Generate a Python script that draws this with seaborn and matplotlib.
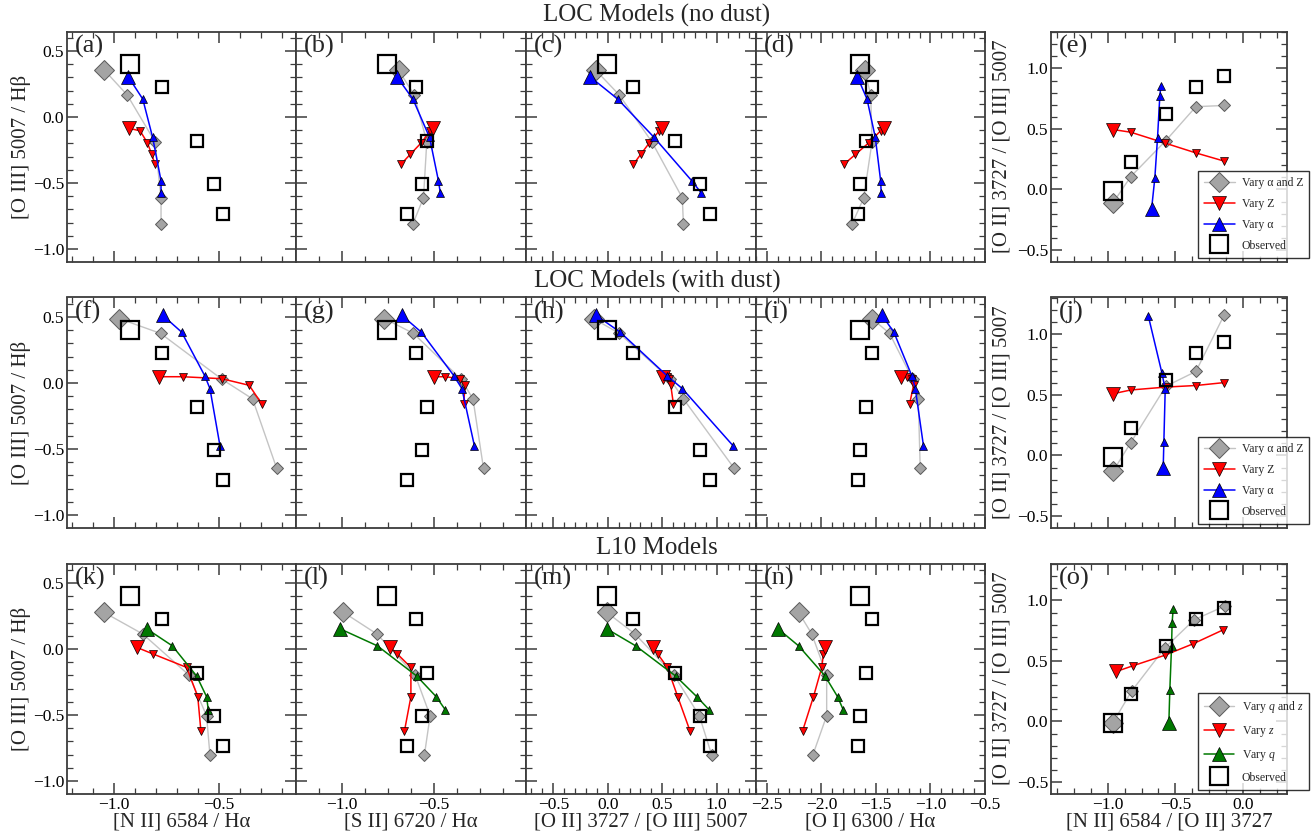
import matplotlib
matplotlib.use("Agg")
import matplotlib.pyplot as plt
from matplotlib.lines import Line2D
from matplotlib.ticker import MultipleLocator
import seaborn as sns

sns.set_theme(style="ticks")
plt.rcParams['font.family'] = ['Liberation Serif', 'DejaVu Serif']
plt.rcParams['mathtext.fontset'] = 'custom'
plt.rcParams['mathtext.rm'] = 'Liberation Serif'
plt.rcParams['mathtext.it'] = 'Liberation Serif:italic'

# ---------------- observed line ratios (log) ----------------
obs_o3hb = [0.40, 0.23, -0.18, -0.51, -0.735]
obs_n2ha = [-0.924, -0.770, -0.603, -0.524, -0.480]
obs_s2ha = [-0.756, -0.599, -0.540, -0.567, -0.648]
obs_o2o3 = [-0.01, 0.23, 0.62, 0.85, 0.94]
obs_o1ha = [-1.643, -1.536, -1.588, -1.648, -1.664]
obs_n2o2 = [-0.961, -0.830, -0.570, -0.348, -0.139]

# ---------------- LOC models, no dust ----------------
loc_both_o3hb = [0.355, 0.167, -0.187, -0.612, -0.808]
loc_both_n2ha = [-1.046, -0.937, -0.805, -0.776, -0.776]
loc_both_s2ha = [-0.693, -0.608, -0.540, -0.558, -0.615]
loc_both_o2o3 = [-0.11, 0.106, 0.404, 0.684, 0.694]
loc_both_o1ha = [-1.603, -1.548, -1.536, -1.612, -1.718]
loc_both_n2o2 = [-0.961, -0.830, -0.570, -0.348, -0.139]

loc_z_o3hb = [-0.086, -0.104, -0.195, -0.283, -0.358]
loc_z_n2ha = [-0.927, -0.876, -0.841, -0.820, -0.805]
loc_z_s2ha = [-0.507, -0.522, -0.570, -0.630, -0.680]
loc_z_o2o3 = [0.495, 0.473, 0.382, 0.302, 0.235]
loc_z_o1ha = [-1.427, -1.457, -1.566, -1.688, -1.794]
loc_z_n2o2 = [-0.960, -0.830, -0.573, -0.348, -0.141]

loc_a_o3hb = [0.305, 0.136, -0.154, -0.483, -0.573]
loc_a_n2ha = [-0.932, -0.863, -0.816, -0.776, -0.776]
loc_a_s2ha = [-0.702, -0.615, -0.525, -0.477, -0.467]
loc_a_o2o3 = [-0.162, 0.092, 0.425, 0.771, 0.856]
loc_a_o1ha = [-1.670, -1.582, -1.506, -1.457, -1.452]
loc_a_n2o2 = [-0.676, -0.652, -0.632, -0.615, -0.607]

# ---------------- LOC models, with dust ----------------
dust_both_o3hb = [0.488, 0.376, 0.030, -0.120, -0.646]
dust_both_n2ha = [-0.975, -0.778, -0.487, -0.340, -0.225]
dust_both_s2ha = [-0.769, -0.612, -0.355, -0.290, -0.233]
dust_both_o2o3 = [-0.13, 0.106, 0.572, 0.694, 1.160]
dust_both_o1ha = [-1.536, -1.375, -1.164, -1.112, -1.094]
dust_both_n2o2 = [-0.961, -0.830, -0.570, -0.348, -0.139]

dust_z_o3hb = [0.048, 0.048, 0.033, -0.017, -0.156]
dust_z_n2ha = [-0.784, -0.673, -0.487, -0.356, -0.297]
dust_z_s2ha = [-0.500, -0.440, -0.359, -0.332, -0.341]
dust_z_o2o3 = [0.510, 0.541, 0.565, 0.578, 0.602]
dust_z_o1ha = [-1.270, -1.215, -1.173, -1.155, -1.191]
dust_z_n2o2 = [-0.961, -0.830, -0.570, -0.348, -0.139]

dust_a_o3hb = [0.513, 0.386, 0.053, -0.042, -0.477]
dust_a_n2ha = [-0.768, -0.678, -0.567, -0.543, -0.495]
dust_a_s2ha = [-0.675, -0.570, -0.392, -0.350, -0.282]
dust_a_o2o3 = [-0.107, 0.113, 0.547, 0.684, 1.152]
dust_a_o1ha = [-1.445, -1.336, -1.170, -1.139, -1.064]
dust_a_n2o2 = [-0.59, -0.585, -0.575, -0.60, -0.70]

# ---------------- L10 models ----------------
l10_both_o3hb = [0.278, 0.114, -0.197, -0.505, -0.803]
l10_both_n2ha = [-1.048, -0.863, -0.643, -0.559, -0.543]
l10_both_s2ha = [-0.991, -0.810, -0.603, -0.522, -0.553]
l10_both_o2o3 = [-0.009, 0.250, 0.608, 0.840, 0.954]
l10_both_o1ha = [-2.209, -2.088, -1.952, -1.952, -2.079]
l10_both_n2o2 = [-0.961, -0.824, -0.578, -0.361, -0.133]

l10_z_o3hb = [0.013, -0.038, -0.139, -0.361, -0.621]
l10_z_n2ha = [-0.892, -0.813, -0.654, -0.601, -0.586]
l10_z_s2ha = [-0.738, -0.699, -0.626, -0.626, -0.661]
l10_z_o2o3 = [0.413, 0.459, 0.547, 0.642, 0.755]
l10_z_o1ha = [-1.966, -1.982, -1.997, -2.073, -2.173]
l10_z_n2o2 = [-0.936, -0.817, -0.578, -0.368, -0.150]

l10_q_o3hb = [0.153, 0.024, -0.205, -0.361, -0.460]
l10_q_n2ha = [-0.844, -0.722, -0.606, -0.559, -0.551]
l10_q_s2ha = [-1.009, -0.807, -0.594, -0.489, -0.440]
l10_q_o2o3 = [-0.009, 0.257, 0.624, 0.817, 0.930]
l10_q_o1ha = [-2.397, -2.209, -1.966, -1.852, -1.800]
l10_q_n2o2 = [-0.548, -0.541, -0.528, -0.524, -0.516]

row_titles = ["LOC Models (no dust)", "LOC Models (with dust)", "L10 Models"]
panel_letters = ["abcde", "fghij", "klmno"]
x_labels = ["[N II] 6584 / H\u03b1", "[S II] 6720 / H\u03b1",
            "[O II] 3727 / [O III] 5007", "[O I] 6300 / H\u03b1",
            "[N II] 6584 / [O II] 3727"]
y_label_left = "[O III] 5007 / H\u03b2"
y_label_right = "[O II] 3727 / [O III] 5007"
legend_labels_loc = ["Vary \u03b1 and Z", "Vary Z", "Vary \u03b1", "Observed"]
legend_labels_l10 = [r"Vary $q$ and $z$", r"Vary $z$", r"Vary $q$", "Observed"]

GREY_FACE, GREY_EDGE, GREY_LINE = "#a4a4a4", "#5a5a5a", "#c4c4c4"
RED, BLUE, GREEN = "#ff0000", "#0000ff", "#007800"
FRAME = "#3c3c3c"

rows = [
    dict(both=(loc_both_n2ha, loc_both_s2ha, loc_both_o2o3, loc_both_o1ha, loc_both_n2o2, loc_both_o3hb),
         z=(loc_z_n2ha, loc_z_s2ha, loc_z_o2o3, loc_z_o1ha, loc_z_n2o2, loc_z_o3hb),
         p=(loc_a_n2ha, loc_a_s2ha, loc_a_o2o3, loc_a_o1ha, loc_a_n2o2, loc_a_o3hb),
         pcolor=BLUE, labels=legend_labels_loc),
    dict(both=(dust_both_n2ha, dust_both_s2ha, dust_both_o2o3, dust_both_o1ha, dust_both_n2o2, dust_both_o3hb),
         z=(dust_z_n2ha, dust_z_s2ha, dust_z_o2o3, dust_z_o1ha, dust_z_n2o2, dust_z_o3hb),
         p=(dust_a_n2ha, dust_a_s2ha, dust_a_o2o3, dust_a_o1ha, dust_a_n2o2, dust_a_o3hb),
         pcolor=BLUE, labels=legend_labels_loc),
    dict(both=(l10_both_n2ha, l10_both_s2ha, l10_both_o2o3, l10_both_o1ha, l10_both_n2o2, l10_both_o3hb),
         z=(l10_z_n2ha, l10_z_s2ha, l10_z_o2o3, l10_z_o1ha, l10_z_n2o2, l10_z_o3hb),
         p=(l10_q_n2ha, l10_q_s2ha, l10_q_o2o3, l10_q_o1ha, l10_q_n2o2, l10_q_o3hb),
         pcolor=GREEN, labels=legend_labels_l10),
]
obs = (obs_n2ha, obs_s2ha, obs_o2o3, obs_o1ha, obs_n2o2, obs_o3hb)

W, H = 1315, 835
fig = plt.figure(figsize=(W / 100, H / 100), dpi=100)

col_px = [(67, 296), (296, 526), (526, 756), (756, 985), (1051, 1287)]
row_px = [(31.5, 261.5), (297.5, 527.5), (563.5, 793.5)]
xlims = [(-1.224, -0.133), (-1.248, -0.003), (-0.75, 1.36), (-2.6, -0.5), (-1.42, 0.326)]
xminor = [0.1, 0.125, 0.1, 0.1, 0.125]
ylim_main = (-1.094, 0.648)
ylim_right = (-0.595, 1.305)


def series(ax, x, y, color, face, edge, marker, ms_small, ms_big, lw, mew, z):
    sns.lineplot(x=x, y=y, sort=False, estimator=None, ax=ax, color=color,
                 linewidth=lw, marker=marker, markersize=ms_small,
                 markerfacecolor=face, markeredgecolor=edge,
                 markeredgewidth=mew, zorder=z, legend=False)
    sns.lineplot(x=x[:1], y=y[:1], sort=False, estimator=None, ax=ax,
                 color=color, linestyle="", marker=marker, markersize=ms_big,
                 markerfacecolor=face, markeredgecolor=edge,
                 markeredgewidth=mew, zorder=z + 0.5, legend=False)


for r, (rtop, rbot) in enumerate(row_px):
    spec = rows[r]
    for c, (cl, cr) in enumerate(col_px):
        ax = fig.add_axes([cl / W, 1 - rbot / H, (cr - cl) / W, (rbot - rtop) / H])
        if c < 4:
            yi = 5
            ylim = ylim_main
        else:
            yi = 2
            ylim = ylim_right
        xi = c
        series(ax, spec["both"][xi], spec["both"][yi], GREY_LINE, GREY_FACE, GREY_EDGE,
               "D", 6.0, 10.0, 1.0, 0.7, 2)
        series(ax, spec["z"][xi], spec["z"][yi], RED, RED, "black",
               "v", 6.0, 10.5, 1.1, 0.5, 3)
        series(ax, spec["p"][xi], spec["p"][yi], spec["pcolor"], spec["pcolor"], "black",
               "^", 6.0, 10.5, 1.1, 0.5, 4)
        sns.lineplot(x=obs[xi][1:], y=obs[yi][1:], sort=False, estimator=None, ax=ax,
                     linestyle="", marker="s", markersize=8, markerfacecolor="none",
                     markeredgecolor="black", markeredgewidth=1.6, zorder=6, legend=False)
        sns.lineplot(x=obs[xi][:1], y=obs[yi][:1], sort=False, estimator=None, ax=ax,
                     linestyle="", marker="s", markersize=12.5, markerfacecolor="none",
                     markeredgecolor="black", markeredgewidth=1.6, zorder=6, legend=False)

        ax.set_xlim(*xlims[c])
        ax.set_ylim(*ylim)
        ax.xaxis.set_major_locator(MultipleLocator(0.5))
        ax.xaxis.set_minor_locator(MultipleLocator(xminor[c]))
        ax.yaxis.set_major_locator(MultipleLocator(0.5))
        ax.yaxis.set_minor_locator(MultipleLocator(0.1))
        ax.tick_params(which="both", direction="in", top=True, right=True,
                       color=FRAME, labelsize=12.5, labelcolor="black")
        ax.tick_params(axis="x", pad=2.5)
        ax.tick_params(axis="y", pad=2)
        ax.tick_params(which="major", length=8, width=1.1)
        ax.tick_params(which="minor", length=4, width=0.9)
        for sp in ax.spines.values():
            sp.set_color(FRAME)
            sp.set_linewidth(1.3)
        ax.set_xlabel("")
        ax.set_ylabel("")
        if r < 2:
            ax.tick_params(labelbottom=False)
        else:
            ax.set_xlabel(x_labels[c], fontsize=15, labelpad=0)
        if c in (1, 2, 3):
            ax.tick_params(labelleft=False)
        if c == 0:
            ax.set_ylabel(y_label_left, fontsize=15, labelpad=1)
        if c == 4:
            ax.set_ylabel(y_label_right, fontsize=15, labelpad=4)
        ax.text(0.033, 0.985, "(%s)" % panel_letters[r][c], transform=ax.transAxes,
                ha="left", va="top", fontsize=19, zorder=10)

        if c == 4:
            handles = [
                Line2D([], [], color=GREY_LINE, lw=1.0, marker="D", markersize=10,
                       markerfacecolor=GREY_FACE, markeredgecolor=GREY_EDGE, markeredgewidth=0.7),
                Line2D([], [], color=RED, lw=1.1, marker="v", markersize=10,
                       markerfacecolor=RED, markeredgecolor="black", markeredgewidth=0.5),
                Line2D([], [], color=spec["pcolor"], lw=1.1, marker="^", markersize=10,
                       markerfacecolor=spec["pcolor"], markeredgecolor="black", markeredgewidth=0.5),
                Line2D([], [], linestyle="", marker="s", markersize=12.5,
                       markerfacecolor="none", markeredgecolor="black", markeredgewidth=1.6),
            ]
            leg = ax.legend(handles, spec["labels"], loc="lower right",
                            bbox_to_anchor=(1309 / W, 1 - (rbot - 4) / H),
                            bbox_transform=fig.transFigure, borderaxespad=0,
                            fontsize=8.5, frameon=True, fancybox=False,
                            handlelength=2.6, labelspacing=0.75, borderpad=0.5,
                            handletextpad=0.6)
            leg.get_frame().set_edgecolor("black")
            leg.get_frame().set_linewidth(1.0)
            leg.set_zorder(20)

    fig.text(657 / W, 1 - (rtop - 16) / H, row_titles[r], ha="center", va="center",
             fontsize=18)

fig.savefig("out.png", dpi=100)
